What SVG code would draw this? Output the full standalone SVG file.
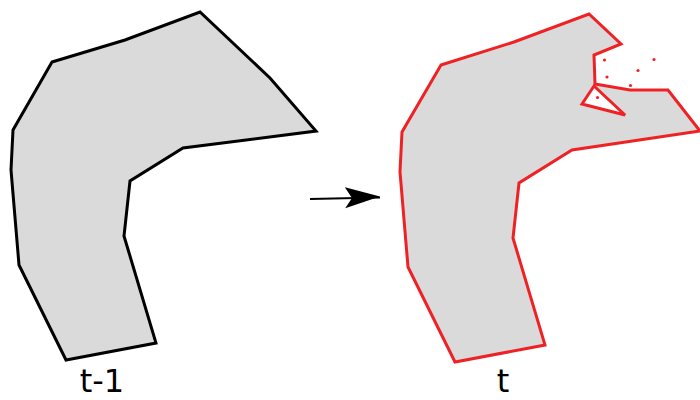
<svg xmlns="http://www.w3.org/2000/svg" width="700" height="400" viewBox="0 0 700 400">
<style>
.shape{fill:#dadada;stroke-width:3;stroke-linejoin:miter}
.prev{stroke:#000}
.cur{stroke:#ee2225}
.dot{fill:#ee2225}
.lbl{font-family:"DejaVu Sans",sans-serif;font-size:32px;fill:#000;text-anchor:middle}
</style>
<defs>
<marker id="ah" viewBox="0 0 36 22" refX="35" refY="11" markerWidth="36" markerHeight="22" markerUnits="userSpaceOnUse" orient="auto">
<path d="M0,0 L35,10 L0,21 L7,11 Z" fill="#000"/>
</marker>
</defs>
<g id="shape-prev">
<polygon class="shape prev" points="52,62 125,40 200,12 270,78 316,131 183,148 130,181 124,236 156,343 66,360 19,265 11,170 13,130"/>
<text class="lbl" x="102" y="392">t-1</text>
</g>
<g id="shape-cur">
<polygon class="shape cur" points="441,65 514,42 589,14 621,44 594,55 595,84 630,90 668,90 700,131 572,150 519,183 513,238 545,345 455,362 408,267 400,172 402,132"/>
<polygon class="cur" fill="#fff" stroke-width="3" points="594,86 582,104 625,115"/>
<circle class="dot" cx="597.5" cy="97.5" r="1.6"/>
<circle class="dot" cx="604.5" cy="60" r="1.6"/>
<circle class="dot" cx="654" cy="59.5" r="1.6"/>
<circle class="dot" cx="638" cy="70.5" r="1.6"/>
<circle class="dot" cx="607" cy="77" r="1.6"/>
<circle class="dot" cx="630.5" cy="85.5" r="1.6"/>
<text class="lbl" x="503" y="392">t</text>
</g>
<g id="connectors">
<line x1="310" y1="199" x2="380" y2="197.5" stroke="#000" stroke-width="2" marker-end="url(#ah)"/>
</g>
</svg>
